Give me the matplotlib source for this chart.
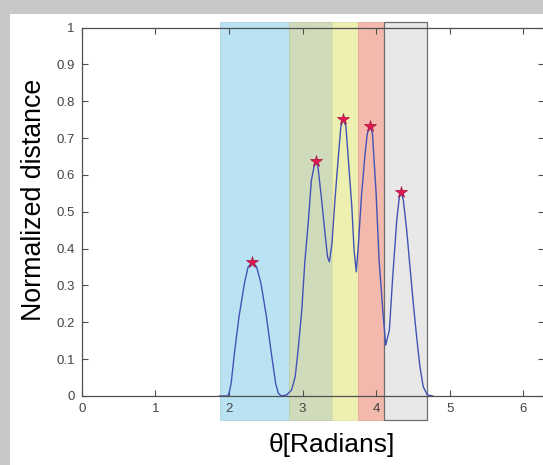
import matplotlib
matplotlib.use("Agg")
import matplotlib.pyplot as plt
from matplotlib.patches import Rectangle
import numpy as np

plt.rcParams['font.family'] = ['Liberation Sans', 'DejaVu Sans']

# Curve samples
theta = [1.87, 1.98, 2.00, 2.03, 2.08, 2.137, 2.21, 2.26, 2.323, 2.377, 2.436, 2.51, 2.57, 2.635, 2.67, 2.71,
         2.785, 2.85, 2.90, 2.94, 2.99, 3.03, 3.08, 3.12, 3.16, 3.183, 3.21, 3.26, 3.31, 3.34, 3.365,
         3.40, 3.44, 3.49, 3.52, 3.554, 3.59, 3.63, 3.67, 3.70, 3.73,
         3.76, 3.80, 3.85, 3.88, 3.917, 3.95, 4.00, 4.04, 4.09, 4.13,
         4.18, 4.225, 4.28, 4.315, 4.338, 4.37, 4.415, 4.46, 4.505, 4.55, 4.595, 4.64, 4.695, 4.77]
distance = [0.0, 0.0, 0.006, 0.034, 0.125, 0.215, 0.305, 0.35, 0.363, 0.35, 0.305, 0.215, 0.125, 0.034, 0.008, 0.0,
            0.003, 0.016, 0.052, 0.125, 0.233, 0.36, 0.477, 0.585, 0.626, 0.638, 0.621, 0.531, 0.432, 0.377, 0.364,
            0.414, 0.531, 0.658, 0.73, 0.753, 0.73, 0.621, 0.513, 0.396, 0.337,
            0.414, 0.54, 0.658, 0.712, 0.734, 0.712, 0.549, 0.369, 0.233, 0.138,
            0.179, 0.323, 0.477, 0.54, 0.554, 0.531, 0.45, 0.35, 0.251, 0.161, 0.079, 0.025, 0.003, 0.0]

# Peak markers
peak_theta = [2.32, 3.183, 3.554, 3.917, 4.338]
peak_dist = [0.363, 0.638, 0.753, 0.734, 0.554]

# Region boundaries (radians)
band_edges = [1.879, 2.821, 3.405, 3.75, 4.107, 4.696]
band_colors = ['#b9e3f3', '#cfdbbb', '#eef0b1', '#f3b9ac', '#e7e8e7']
band_edgecolors = ['#a9d3e3', '#bfcbab', '#dedfa1', '#e3a99c', '#6e6e6e']

xticks = [0, 1, 2, 3, 4, 5, 6]
yticks = [0, 0.1, 0.2, 0.3, 0.4, 0.5, 0.6, 0.7, 0.8, 0.9, 1]
ytick_labels = ['0', '0.1', '0.2', '0.3', '0.4', '0.5', '0.6', '0.7', '0.8', '0.9', '1']

W, H = 543, 465
fig = plt.figure(figsize=(W / 100, H / 100), dpi=100, facecolor='white')

# gray frame at top and left
fig.patches.append(Rectangle((0, 1 - 14 / H), 1, 14 / H, transform=fig.transFigure,
                             facecolor='#c8c8c8', edgecolor='none', zorder=0))
fig.patches.append(Rectangle((0, 0), 10 / W, 1, transform=fig.transFigure,
                             facecolor='#c8c8c8', edgecolor='none', zorder=0))

ax = fig.add_axes([81.7 / W, 1 - 396 / H, 462.5 / W, 368.5 / H])
ax.set_xlim(0, 2 * np.pi)
ax.set_ylim(0, 1)

for i in range(len(band_colors)):
    x0 = band_edges[i]
    x1 = band_edges[i + 1]
    r = Rectangle((x0, -0.065), x1 - x0, 1.079, facecolor=band_colors[i],
                  edgecolor=band_edgecolors[i], linewidth=0.9 if i == 4 else 0.6,
                  clip_on=False, zorder=0.5)
    ax.add_patch(r)

ax.plot(theta, distance, color='#4253b5', linewidth=1.0, zorder=2)
ax.plot(peak_theta, peak_dist, linestyle='none', marker='*', markersize=8.5,
        markerfacecolor='#e5194f', markeredgecolor='#a01040', markeredgewidth=0.5, zorder=3)

ax.set_xticks(xticks)
ax.set_xticklabels([str(t) for t in xticks])
ax.set_yticks(yticks)
ax.set_yticklabels(ytick_labels)
ax.tick_params(direction='in', length=4, width=0.8, color='#505050', labelcolor='#444444',
               labelsize=9.5, top=True, right=True, pad=5)
for s in ax.spines.values():
    s.set_color('#505050')
    s.set_linewidth(0.9)

fig.text(34 / W, 1 - 200 / H, 'Normalized distance', rotation=90, ha='center', va='center',
         fontsize=19.3, color='black')
fig.text(332 / W, 1 - 445 / H, 'θ[Radians]', ha='center', va='center', fontsize=19, color='black')

fig.savefig('out.png', dpi=100, facecolor='white')
